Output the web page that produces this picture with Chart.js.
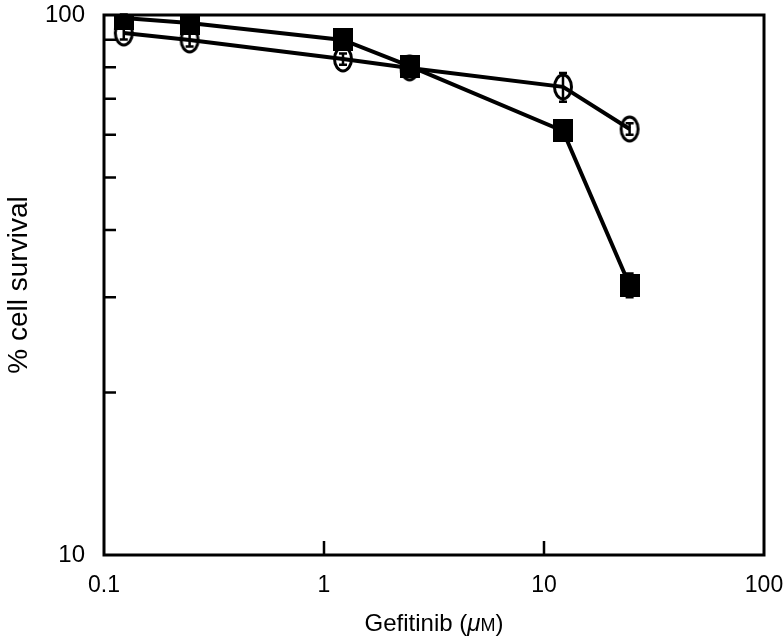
<!DOCTYPE html>
<html>
<head>
<meta charset="utf-8">
<script src="https://cdn.jsdelivr.net/npm/chart.js@4/dist/chart.umd.min.js"></script>
<style>
  body { margin: 0; background: #fff; }
</style>
</head>
<body>
<canvas id="chart" width="783" height="640"></canvas>
<script>
// dose in uM (log axis)
const doses = [0.123, 0.245, 1.22, 2.45, 12.2, 24.5];
const survivalSquare = [98.7, 96.6, 89.9, 80.4, 61.0, 31.6];
const errorSquare = [1.5, 1.5, 1.5, 1.2, 1.2, 1.6];
const survivalCircle = [92.6, 89.9, 82.9, 79.8, 73.6, 61.5];
const errorCircle = [2.5, 2.5, 2.0, 1.5, 4.5, 1.5];

const xTicks = [0.1, 1, 10, 100];
const xInnerTicks = [1, 10];
const yTicks = [10, 100];
const yMinorTicks = [20, 30, 40, 50, 60, 70, 80, 90];

// x title pieces: [text, style, size]
const xTitleParts = [["Gefitinib (", "normal", 24], ["μ", "italic", 24], ["M", "normal", 18], [")", "normal", 24]];

const font = "'Liberation Sans', Arial, Helvetica, sans-serif";

// marker images
function squareMarker() {
  const c = document.createElement("canvas");
  c.width = 20; c.height = 23;
  const g = c.getContext("2d");
  g.fillStyle = "#000";
  g.fillRect(0, 0, 20, 23);
  return c;
}
function ellipseMarker() {
  const c = document.createElement("canvas");
  c.width = 22; c.height = 28;
  const g = c.getContext("2d");
  g.strokeStyle = "#000";
  g.lineWidth = 3;
  g.beginPath();
  g.ellipse(11, 14, 8.5, 12, 0, 0, Math.PI * 2);
  g.stroke();
  return c;
}

const toPoints = (ys) => doses.map((x, i) => ({ x: x, y: ys[i] }));

const frameAndBars = {
  id: "frameAndBars",
  beforeDatasetsDraw(chart) {
    const ctx = chart.ctx;
    const xs = chart.scales.x, ys = chart.scales.y;
    ctx.save();
    ctx.strokeStyle = "#000";
    ctx.lineWidth = 2.5;
    const bars = [[survivalSquare, errorSquare], [survivalCircle, errorCircle]];
    bars.forEach(([vals, errs]) => {
      vals.forEach((v, i) => {
        const px = xs.getPixelForValue(doses[i]);
        const top = ys.getPixelForValue(v + errs[i]);
        const bot = ys.getPixelForValue(v - errs[i]);
        ctx.beginPath();
        ctx.moveTo(px, top); ctx.lineTo(px, bot);
        ctx.moveTo(px - 4, top); ctx.lineTo(px + 4, top);
        ctx.moveTo(px - 4, bot); ctx.lineTo(px + 4, bot);
        ctx.stroke();
      });
    });
    ctx.restore();
  },
  afterDraw(chart) {
    const ctx = chart.ctx;
    const a = chart.chartArea;
    const xs = chart.scales.x, ys = chart.scales.y;
    ctx.save();
    ctx.strokeStyle = "#000";
    ctx.lineWidth = 3;
    ctx.strokeRect(a.left, a.top, a.right - a.left, a.bottom - a.top);
    ctx.lineWidth = 2.5;
    ctx.beginPath();
    yMinorTicks.forEach((v) => {
      const py = ys.getPixelForValue(v);
      ctx.moveTo(a.left, py); ctx.lineTo(a.left + 12, py);
    });
    xInnerTicks.forEach((v) => {
      const px = xs.getPixelForValue(v);
      ctx.moveTo(px, a.bottom); ctx.lineTo(px, a.bottom - 14);
    });
    ctx.stroke();

    // x axis title with italic mu and small M
    ctx.fillStyle = "#000";
    ctx.textBaseline = "alphabetic";
    ctx.textAlign = "left";
    const fontOf = (p) => `${p[1]} ${p[2]}px ${font}`;
    let total = 0;
    xTitleParts.forEach((p) => { ctx.font = fontOf(p); total += ctx.measureText(p[0]).width; });
    let x = (a.left + a.right) / 2 - total / 2;
    const baseY = xs.bottom - 9;
    xTitleParts.forEach((p) => {
      ctx.font = fontOf(p);
      ctx.fillText(p[0], x, baseY);
      x += ctx.measureText(p[0]).width;
    });
    ctx.restore();
  }
};

new Chart(document.getElementById("chart"), {
  type: "line",
  data: {
    datasets: [
      {
        label: "filled",
        data: toPoints(survivalSquare),
        borderColor: "#000",
        borderWidth: 4,
        pointStyle: squareMarker(),
        tension: 0,
      },
      {
        label: "open",
        data: toPoints(survivalCircle),
        borderColor: "#000",
        borderWidth: 4,
        pointStyle: ellipseMarker(),
        tension: 0,
      },
    ],
  },
  options: {
    responsive: false,
    animation: false,
    events: [],
    layout: { padding: { top: 15, right: 19, left: 0, bottom: 0 } },
    plugins: { legend: { display: false }, tooltip: { enabled: false } },
    scales: {
      x: {
        type: "logarithmic",
        min: 0.1,
        max: 100,
        afterBuildTicks: (s) => { s.ticks = xTicks.map((v) => ({ value: v })); },
        afterFit: (s) => { s.height = 85; s.paddingLeft = 0; s.paddingRight = 0; },
        grid: { display: false, drawTicks: false },
        border: { display: false },
        ticks: {
          autoSkip: false,
          maxRotation: 0,
          padding: 17,
          color: "#000",
          font: { family: font, size: 23 },
          callback: (v) => String(v),
        },
        title: { display: false },
      },
      y: {
        type: "logarithmic",
        min: 10,
        max: 100,
        afterBuildTicks: (s) => { s.ticks = yTicks.map((v) => ({ value: v })); },
        afterFit: (s) => { s.width = 104; s.paddingTop = 0; s.paddingBottom = 0; },
        grid: { display: false, drawTicks: false },
        border: { display: false },
        ticks: {
          autoSkip: false,
          padding: 19,
          color: "#000",
          font: { family: font, size: 24 },
          callback: (v) => String(v),
        },
        title: {
          display: true,
          text: "% cell survival",
          color: "#000",
          font: { family: font, size: 28 },
          padding: { top: 2, bottom: 0 },
        },
      },
    },
  },
  plugins: [frameAndBars],
});
</script>
</body>
</html>
